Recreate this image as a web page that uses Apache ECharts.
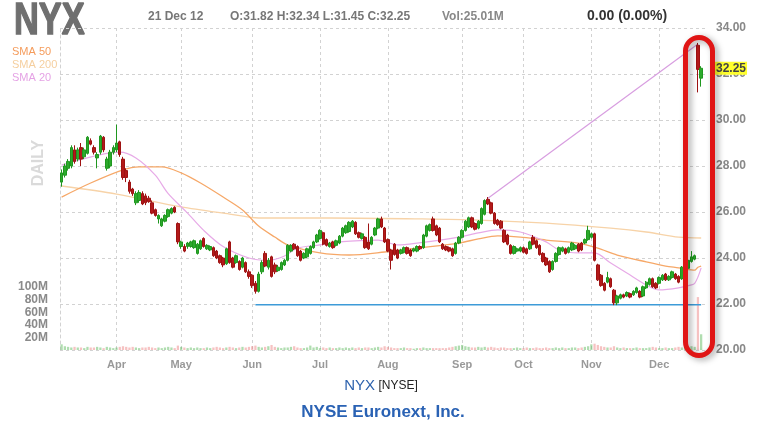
<!DOCTYPE html>
<html>
<head>
<meta charset="utf-8">
<script src="https://cdn.jsdelivr.net/npm/echarts@6/dist/echarts.min.js"></script>
<style>
html,body{margin:0;padding:0;background:#fff;}
#chart{width:762px;height:432px;}
</style>
</head>
<body>
<div id="chart"></div>
<script>
// ---------- DATA ----------
const startDate = '2012-03-08';
const endDate = '2012-12-21';
const holidays = ['2012-04-06','2012-05-28','2012-07-04','2012-09-03','2012-10-29','2012-10-30','2012-11-22'];
const monthNames = ['Jan','Feb','Mar','Apr','May','Jun','Jul','Aug','Sep','Oct','Nov','Dec'];

// candles: [open, close, low, high]
const marCandles = [
[27.3,27.7,27.1,27.85],[27.6,28.0,27.5,28.1],[27.9,28.2,27.8,28.3],[28.0,28.8,27.9,28.9],
[28.7,28.2,28.1,28.9],[28.3,28.7,28.2,28.8],[28.8,28.3,28.0,29.0],[28.4,28.7,28.3,28.8],
[28.55,29.25,28.5,29.3],[29.1,28.95,28.9,29.2],[28.8,28.6,28.5,28.9],[28.35,28.5,27.9,28.6],
[28.6,29.3,28.5,29.35],[29.25,28.7,28.6,29.3],[27.9,28.3,27.8,28.4],[28.0,28.6,27.9,28.7],
[28.6,28.8,28.5,28.9]];
const aprCandles = [
[28.7,29.0,28.6,29.8],[29.05,28.5,28.4,29.1],[28.3,27.5,27.4,28.4],[27.8,27.5,27.3,27.9],
[27.3,26.9,26.8,27.4],[27.0,26.8,26.7,27.05],[26.4,26.8,26.3,26.9],[26.5,26.85,26.4,26.95],
[26.8,26.35,26.3,26.9],[26.7,26.4,26.3,26.8],[26.6,26.45,26.4,26.7],[26.4,25.95,25.9,26.5],
[26.1,25.85,25.8,26.15],[25.7,25.85,25.5,25.9],[25.4,25.7,25.35,25.75],[25.6,25.85,25.55,25.9],
[25.8,26.1,25.75,26.15],[25.95,26.15,25.9,26.2],[26.2,26.0,25.95,26.25],[25.5,24.7,24.6,25.55]];
const mayCandles = [
[24.5,24.7,24.4,24.75],[24.5,24.3,24.25,24.6],[24.5,24.65,24.4,24.7],[24.5,24.7,24.45,24.75],
[24.45,24.75,24.4,24.8],[24.2,24.6,24.15,24.65],[24.4,24.75,24.35,24.8],[24.85,24.5,24.45,24.9],
[24.4,24.55,24.35,24.6],[24.35,24.5,24.3,24.55],[24.45,24.1,24.05,24.5],[24.3,24.0,23.95,24.35],
[24.1,23.8,23.75,24.15],[24.0,23.7,23.6,24.05],[23.75,24.4,23.7,24.45],[24.7,23.8,23.75,24.75],
[24.0,23.6,23.55,24.05],[23.8,24.1,23.75,24.15],[23.85,23.5,23.45,23.9],[23.6,24.0,23.55,24.05],
[23.8,23.4,23.35,23.85],[23.4,23.2,23.1,23.5]];
const junCandles = [
[23.25,22.8,22.7,23.3],[22.9,22.55,22.45,23.0],[22.55,23.3,22.5,23.4],[23.4,23.8,23.3,23.9],
[24.2,23.65,23.6,24.3],[23.6,23.9,23.5,24.0],[24.05,23.2,23.15,24.1],[23.7,23.4,23.3,23.8],
[23.45,23.6,23.4,23.7],[23.5,23.8,23.45,23.85],[23.7,23.9,23.65,23.95],[23.9,24.55,23.85,24.6],
[24.3,24.55,24.25,24.6],[24.6,24.4,24.35,24.65],[24.5,24.1,24.05,24.55],[24.3,23.9,23.85,24.35],
[24.0,24.2,23.95,24.25],[24.05,24.4,24.0,24.45],[24.2,24.5,24.15,24.55],[24.45,24.7,24.4,24.75],
[24.7,25.0,24.65,25.05]];
const julCandles = [
[24.85,25.2,24.8,25.25],[25.1,24.6,24.55,25.15],[24.8,24.55,24.5,24.85],[24.5,24.65,24.45,24.7],
[24.7,24.45,24.4,24.75],[24.55,24.75,24.5,24.8],[24.65,24.95,24.6,25.0],[24.95,25.3,24.9,25.35],
[25.1,25.4,25.05,25.45],[25.15,25.55,25.1,25.6],[25.35,25.6,25.3,25.65],[25.55,25.05,25.0,25.6],
[25.1,24.9,24.85,25.15],[24.85,25.05,24.8,25.1],[24.9,24.45,24.4,24.95],[24.7,24.4,24.35,25.5],
[24.6,24.9,24.55,24.95],[25.0,25.3,24.95,25.35],[25.3,25.7,25.25,25.75],[25.7,25.35,25.3,25.8]];
const augCandles = [
[25.3,24.7,24.65,25.35],[24.8,24.3,24.25,24.85],[24.35,23.9,23.5,24.4],[24.6,24.15,24.1,24.65],
[24.35,24.0,23.95,24.4],[24.2,24.35,24.15,24.4],[24.25,24.45,24.2,24.5],[24.45,24.2,24.15,24.5],
[24.35,24.1,24.05,24.4],[24.3,24.4,24.25,24.45],[24.3,24.5,24.25,24.55],[24.5,24.4,24.35,24.55],
[24.45,25.0,24.4,25.05],[24.95,25.4,24.9,25.45],[25.2,25.45,25.15,25.5],[25.7,25.2,25.15,25.8],
[25.4,25.0,24.95,25.45],[25.3,24.7,24.65,25.35],[24.6,24.4,24.35,24.65],[24.5,24.35,24.3,24.55],
[24.45,24.3,24.25,24.5],[24.4,24.1,24.05,24.45],[24.2,24.65,24.15,24.7]];
const sepCandles = [
[24.65,24.9,24.6,24.95],[24.9,25.2,24.85,25.25],[25.2,25.6,25.15,25.65],[25.35,25.75,25.3,25.8],
[25.75,25.35,25.3,25.8],[25.5,25.25,25.2,25.55],[25.3,25.6,25.25,25.65],[25.5,26.15,25.45,26.2],
[25.9,26.5,25.85,26.55],[26.55,26.35,26.3,26.65],[26.4,25.95,25.9,26.45],[25.95,25.5,25.45,26.0],
[25.65,25.45,25.4,25.7],[25.6,25.3,25.25,25.65],[25.2,24.7,24.65,25.25],[25.0,24.6,24.55,25.05],
[24.55,24.2,24.15,24.6],[24.2,24.5,24.15,24.55],[24.3,24.4,24.25,24.45]];
const octCandles = [
[24.3,24.45,24.25,24.5],[24.45,24.25,24.2,24.5],[24.4,24.2,24.15,24.45],[24.4,24.7,24.35,24.75],
[24.9,24.6,24.55,25.0],[24.75,24.45,24.4,24.8],[24.55,24.15,24.1,24.6],[24.2,23.85,23.8,24.25],
[24.0,23.7,23.65,24.05],[23.85,23.4,23.35,23.9],[23.5,23.85,23.45,23.9],[23.85,24.2,23.8,24.25],
[24.15,24.45,24.1,24.5],[24.3,24.45,24.25,24.5],[24.4,24.2,24.15,24.45],[24.25,24.45,24.2,24.5],
[24.35,24.65,24.3,24.7],[24.4,24.55,24.35,24.6],[24.6,24.3,24.25,24.65],[24.65,24.35,24.3,24.7],
[24.65,24.8,24.6,24.85]];
const novCandles = [
[24.8,25.2,24.75,25.4],[24.9,25.05,24.85,25.1],[25.05,23.9,23.85,25.1],[23.7,23.05,23.0,23.75],
[23.25,22.8,22.75,23.3],[22.9,22.6,22.55,22.95],[22.95,23.15,22.9,23.4],[23.1,22.75,22.7,23.15],
[22.6,22.05,21.95,22.65],[22.05,22.35,21.95,22.4],[22.25,22.4,22.2,22.45],[22.4,22.3,22.25,22.45],
[22.35,22.5,22.3,22.55],[22.45,22.3,22.25,22.5],[22.4,22.55,22.35,22.6],[22.5,22.7,22.45,22.75],
[22.55,22.3,22.25,22.6],[22.35,22.75,22.3,22.8],[22.7,22.95,22.65,23.0],[22.85,23.1,22.8,23.15],
[23.1,22.75,22.7,23.15]];
const decCandles = [
[22.9,22.7,22.65,22.95],[22.9,23.15,22.85,23.2],[23.05,23.25,23.0,23.3],[23.3,23.05,23.0,23.35],
[23.05,23.2,23.0,23.25],[23.15,23.4,23.1,23.45],[23.3,23.1,23.05,23.35],[23.2,22.95,22.9,23.25],
[23.1,23.6,23.05,23.65],[23.45,23.7,23.4,23.75],[23.55,23.9,23.5,23.95],[23.85,24.05,23.8,24.3],
[23.95,24.1,23.9,24.15],[33.25,32.2,31.2,33.35],[31.82,32.25,31.45,32.34]];

// daily volume, millions
const marVol = [9,6,5,4,5,4,4,3,5,4,4,5,4,3,5,4,3];
const aprVol = [4,5,6,5,4,5,4,3,4,4,5,4,3,4,3,4,5,4,3,7];
const mayVol = [5,4,3,4,3,4,3,3,4,3,4,5,4,3,4,5,4,3,4,5,4,5];
const junVol = [6,7,5,4,5,6,8,5,4,3,4,4,5,6,4,3,3,4,7,4,5];
const julVol = [3,4,3,4,3,3,4,3,4,3,4,3,4,3,4,4,3,4,5,4];
const augVol = [6,5,4,3,3,3,4,3,3,2,3,3,4,3,3,3,3,3,3,3,4,5,6];
const sepVol = [7,8,6,5,4,4,5,4,5,4,5,4,3,4,4,3,3,3,4];
const octVol = [3,3,4,3,3,4,3,3,4,3,3,4,3,4,3,3,4,4,3,4,5];
const novVol = [6,9,10,8,6,5,4,4,6,4,3,4,3,3,3,4,3,3,3,4,5];
const decVol = [4,3,3,4,3,3,4,5,4,4,5,6,5,84,25];

// moving averages: [day index, value]
const sma50 = [[0,26.65],[9,27.26],[19,27.83],[24,27.96],[31,27.96],[37,27.7],[43,27.26],[50,26.65],[56,26.09],[61,25.39],[66,24.91],[70,24.57],[80,24.22],[89,24.13],[100,24.26],[110,24.43],[123,24.65],[129,24.83],[135,24.96],[142,24.91],[150,24.78],[160,24.65],[166,24.43],[172,24.13],[181,23.83],[187,23.65],[191,23.57],[195,23.48],[196,23.47],[197,23.6],[198,23.65]];
const sma200 = [[0,27.13],[17,26.78],[37,26.22],[52,25.91],[61,25.74],[83,25.74],[110,25.7],[129,25.65],[150,25.52],[170,25.3],[181,25.13],[191,24.91],[198,24.87]];
const sma20 = [[0,28.04],[18,28.6],[23,28.35],[29,27.6],[33,26.8],[39,25.95],[44,25.2],[50,24.5],[58,24.0],[64,23.9],[69,24.09],[73,24.43],[80,24.57],[86,24.7],[98,24.78],[104,24.57],[110,24.65],[123,24.91],[129,25.09],[135,25.22],[142,25.13],[150,24.7],[154,24.35],[160,24.22],[165,24.22],[170,23.78],[175,23.35],[181,22.83],[185,22.61],[191,22.7],[195,22.83],[196,22.9],[197,23.17],[198,23.57]];
const trendLine = [[132,26.6],[197,33.3]];
const supportLine = [[60,21.97],[198,21.97]];
const lastClose = 32.25;

// ---------- BUILD ----------
function tradingDays(s, e, hol) {
  const out = [];
  const d = new Date(s + 'T00:00:00Z');
  const end = new Date(e + 'T00:00:00Z');
  while (d <= end) {
    const wd = d.getUTCDay();
    const iso = d.toISOString().slice(0, 10);
    if (wd !== 0 && wd !== 6 && hol.indexOf(iso) < 0) out.push(iso);
    d.setUTCDate(d.getUTCDate() + 1);
  }
  return out;
}
const dates = tradingDays(startDate, endDate, holidays);
const candles = [].concat(marCandles, aprCandles, mayCandles, junCandles, julCandles, augCandles, sepCandles, octCandles, novCandles, decCandles);
const volumes = [].concat(marVol, aprVol, mayVol, junVol, julVol, augVol, sepVol, octVol, novVol, decVol);

const monthOf = i => dates[i].slice(5, 7);
const isMonthStart = i => i > 0 && monthOf(i) !== monthOf(i - 1);

const FONT = 'Liberation Sans';
const chart = echarts.init(document.getElementById('chart'), null, {renderer: 'canvas'});

function txt(x, y, text, size, weight, fill, extra) {
  return Object.assign({type: 'text', x: x, y: y, style: Object.assign({
    text: text, fontSize: size, fontWeight: weight, fontFamily: FONT, fill: fill, verticalAlign: 'middle'
  }, (extra && extra.style) || {})}, (extra && extra.el) || {});
}

const option = {
  animation: false,
  backgroundColor: '#ffffff',
  textStyle: {fontFamily: FONT},
  grid: {left: 60, right: 56, top: 28, bottom: 82},
  xAxis: {
    type: 'category', data: dates, boundaryGap: true,
    axisLine: {show: false}, axisTick: {show: false, alignWithLabel: true},
    axisLabel: {
      interval: (i) => isMonthStart(i),
      formatter: (v) => monthNames[parseInt(v.slice(5, 7), 10) - 1],
      color: '#999', fontWeight: 'bold', fontSize: 11, margin: 9, fontFamily: FONT
    },
    splitLine: {show: true, interval: (i) => isMonthStart(i), alignWithLabel: true,
      lineStyle: {color: '#d2d2d2', type: [3, 3], width: 1}}
  },
  yAxis: [
    {
      type: 'value', position: 'right', min: 20, max: 34, interval: 2,
      axisLine: {show: false}, axisTick: {show: false},
      axisLabel: {formatter: v => v.toFixed(2), color: '#888', fontWeight: 'bold', fontSize: 12, margin: 10, fontFamily: FONT},
      splitLine: {show: true, lineStyle: {color: '#d2d2d2', type: [3, 3], width: 1}}
    },
    {
      type: 'value', position: 'left', min: 0, max: 511, interval: 20,
      axisLine: {show: true, lineStyle: {color: '#d2d2d2', type: [3, 3], width: 1}},
      axisTick: {show: false}, splitLine: {show: false},
      axisLabel: {formatter: v => (v > 0 && v <= 100) ? v + 'M' : '', color: '#8a8a8a', fontWeight: 'bold', fontSize: 12, margin: 12, fontFamily: FONT}
    }
  ],
  series: [
    {
      type: 'bar', yAxisIndex: 1, barWidth: '70%', z: 1,
      data: volumes.map((v, i) => ({
        value: v,
        itemStyle: {color: candles[i][1] >= candles[i][0] ? 'rgba(80,180,80,0.45)' : 'rgba(235,120,120,0.45)'}
      }))
    },
    {type: 'line', data: sma200, smooth: 0.3, showSymbol: false, z: 2,
      lineStyle: {color: '#f7d3a8', width: 1.3}},
    {type: 'line', data: sma50, smooth: 0.3, showSymbol: false, z: 2,
      lineStyle: {color: '#f6a868', width: 1.3}},
    {type: 'line', data: sma20, smooth: 0.3, showSymbol: false, z: 2,
      lineStyle: {color: '#e7aae7', width: 1.2}},
    {type: 'line', data: trendLine, showSymbol: false, z: 2,
      lineStyle: {color: '#d89ee0', width: 1.2}},
    {type: 'line', data: supportLine, showSymbol: false, z: 2,
      lineStyle: {color: '#3d9bd8', width: 1.6}},
    {
      type: 'candlestick', data: candles, barWidth: '92%', z: 3,
      itemStyle: {color: '#2caa2c', color0: '#b31a1a', borderColor: '#1f971f', borderColor0: '#9e1212', borderWidth: 1},
      markLine: {
        silent: true, symbol: 'none', z: 10,
        lineStyle: {color: 'rgba(255,255,255,0)', width: 0, type: 'solid'},
        data: [{yAxis: lastClose}],
        label: {show: true, position: 'end', distance: 9, formatter: () => lastClose.toFixed(2),
          backgroundColor: '#ffff2e', color: '#444', fontWeight: 'bold', fontSize: 12, padding: [1, 1, 0, 1], fontFamily: FONT}
      }
    }
  ],
  graphic: [
    txt(14, 22, 'NYX', 37, 'bold', '#6f6f6f', {el: {scaleY: 1.2, scaleX: 0.93}, style: {stroke: '#6f6f6f', lineWidth: 1.2}}),
    txt(148, 17, '21 Dec 12', 12, 'bold', '#777'),
    txt(230, 17, 'O:31.82 H:32.34 L:31.45 C:32.25', 12, 'bold', '#777'),
    txt(442, 17, 'Vol:25.01M', 12, 'bold', '#888'),
    txt(587, 16, '0.00 (0.00%)', 14, 'bold', '#333'),
    txt(12, 52, 'SMA 50', 11, 'normal', '#f59c5c'),
    txt(12, 65, 'SMA 200', 11, 'normal', '#f5cf9f'),
    txt(12, 78, 'SMA 20', 11, 'normal', '#e5a3e5'),
    txt(39, 163, 'DAILY', 16, 'bold', '#dadada', {el: {rotation: Math.PI / 2}, style: {align: 'center'}}),
    {type: 'text', x: 381, y: 386, style: {text: '{a|NYX} {b|[NYSE]}', align: 'center', verticalAlign: 'middle',
      rich: {a: {fontSize: 15, fill: '#2d62ad', fontFamily: FONT}, b: {fontSize: 12, fill: '#222', fontFamily: FONT}}}},
    txt(383, 412, 'NYSE Euronext, Inc.', 17, 'bold', '#2a62b4', {style: {align: 'center'}}),
    {type: 'rect', z: 100, shape: {x: 685.5, y: 37.5, width: 27, height: 318, r: 13.5},
      style: {fill: 'none', stroke: '#e01515', lineWidth: 5, shadowBlur: 6, shadowColor: 'rgba(0,0,0,0.35)', shadowOffsetX: 3, shadowOffsetY: 2}}
  ]
};
chart.setOption(option);
</script>
</body>
</html>
